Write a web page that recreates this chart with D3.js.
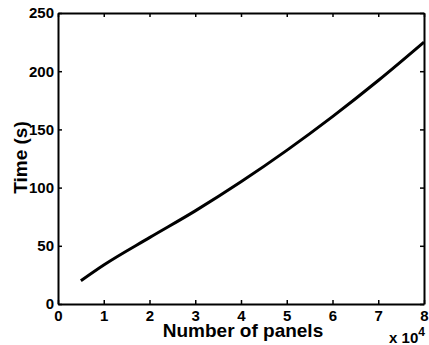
<!DOCTYPE html>
<html>
<head>
<meta charset="utf-8">
<script src="https://cdn.jsdelivr.net/npm/d3@7"></script>
<style>
  body { margin: 0; background: #fff; }
  text { font-family: "Liberation Sans", Arial, sans-serif; font-weight: bold; }
</style>
</head>
<body>
<div id="chart"></div>
<script>
// number of panels (x 10^4) and time in seconds
var panels = [0.5, 1, 2, 3, 4, 5, 6, 7, 8];
var times  = [20, 33.5, 57, 80, 105, 132, 161, 192, 225];
var xTicks = [0, 1, 2, 3, 4, 5, 6, 7, 8];
var yTicks = [0, 50, 100, 150, 200, 250];

var margin = {top: 13, right: 5, bottom: 41, left: 58},
    width  = 429 - margin.left - margin.right,
    height = 345 - margin.top - margin.bottom;

var x = d3.scaleLinear().domain([0, 8]).range([0, width]);
var y = d3.scaleLinear().domain([0, 250]).range([height, 0]);

var svg = d3.select("#chart").append("svg")
    .attr("width", 429)
    .attr("height", 345)
  .append("g")
    .attr("transform", "translate(" + margin.left + "," + margin.top + ")");

// axes with inward ticks, box on all four sides
var xAxis = svg.append("g")
    .attr("transform", "translate(0," + height + ")")
    .call(d3.axisBottom(x).tickValues(xTicks).tickSizeInner(-4).tickSizeOuter(0).tickPadding(6));
var yAxis = svg.append("g")
    .call(d3.axisLeft(y).tickValues(yTicks).tickSizeInner(-4).tickSizeOuter(0).tickPadding(4));
var xTop = svg.append("g")
    .call(d3.axisTop(x).tickValues(xTicks).tickSizeInner(-4).tickSizeOuter(0).tickFormat(""));
var yRight = svg.append("g")
    .attr("transform", "translate(" + width + ",0)")
    .call(d3.axisRight(y).tickValues(yTicks).tickSizeInner(-4).tickSizeOuter(0).tickFormat(""));

[xAxis, yAxis, xTop, yRight].forEach(function(a) {
  a.select(".domain").attr("stroke", "#000").attr("stroke-width", 2);
  a.selectAll(".tick line").attr("stroke", "#000").attr("stroke-width", 1.5);
  a.selectAll("text").attr("fill", "#000").style("font-size", "15px").style("font-weight", "bold");
});

// data line
var line = d3.line()
    .x(function(d, i) { return x(panels[i]); })
    .y(function(d) { return y(d); })
    .curve(d3.curveMonotoneX);

svg.append("path")
    .datum(times)
    .attr("fill", "none")
    .attr("stroke", "#000")
    .attr("stroke-width", 3)
    .attr("d", line);

// axis labels
svg.append("text")
    .attr("x", width / 2 + 2)
    .attr("y", height + 33)
    .attr("text-anchor", "middle")
    .style("font-size", "19px")
    .text("Number of panels");

svg.append("text")
    .attr("transform", "rotate(-90)")
    .attr("x", -height / 2 + 1)
    .attr("y", -31)
    .attr("text-anchor", "middle")
    .style("font-size", "19px")
    .text("Time (s)");

var exp = svg.append("text")
    .attr("x", width + 1)
    .attr("y", height + 39)
    .attr("text-anchor", "end")
    .style("font-size", "15px");
exp.append("tspan").text("x 10");
exp.append("tspan").attr("dy", -7).style("font-size", "12px").text("4");
</script>
</body>
</html>
